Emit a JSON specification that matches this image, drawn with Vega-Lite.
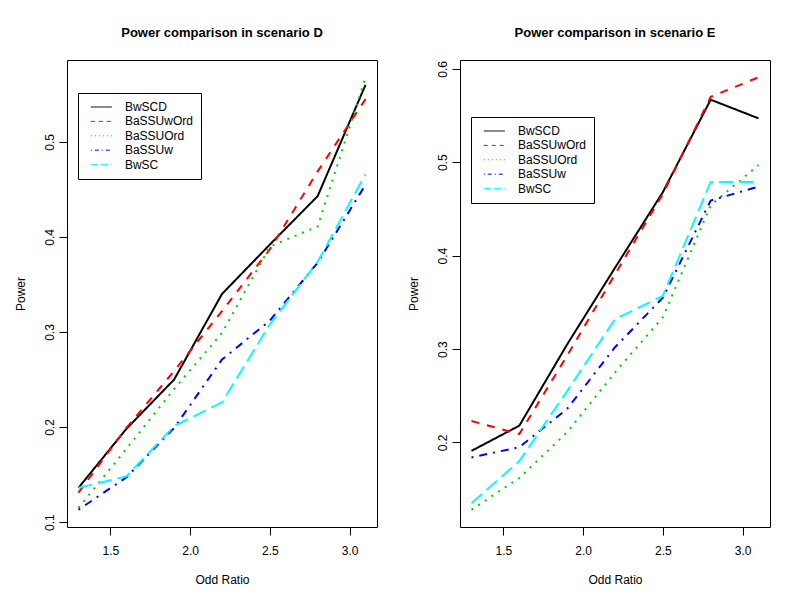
{
  "$schema": "https://vega.github.io/schema/vega-lite/v6.json",
  "padding": {"left": 13, "top": 26, "right": 0, "bottom": 0},
  "background": "white",
  "config": {
    "font": "Liberation Sans",
    "view": {"stroke": "black", "strokeWidth": 1},
    "title": {"font": "Liberation Sans", "fontSize": 13, "fontWeight": "bold", "color": "black", "anchor": "middle", "baseline": "bottom", "offset": 20},
    "axis": {"labelFont": "Liberation Sans", "titleFont": "Liberation Sans", "labelFontSize": 12, "titleFontSize": 12, "titleFontWeight": "normal", "labelColor": "black", "titleColor": "black", "tickColor": "black", "tickSize": 8, "grid": false, "domain": false},
    "axisX": {"labelPadding": 10, "minExtent": 30, "maxExtent": 30, "titlePadding": 17},
    "axisY": {"labelAngle": -90, "labelPadding": 3, "minExtent": 24, "maxExtent": 24, "titlePadding": 16},
    "legend": {"labelFont": "Liberation Sans", "labelFontSize": 12, "labelColor": "black", "symbolType": "M-2.5,0H2.5", "symbolSize": 70.56, "symbolStrokeWidth": 1, "symbolOffset": 9.3, "labelOffset": 17.6, "padding": 8, "rowPadding": 2.4, "strokeColor": "black", "fillColor": "white", "title": null}
  },
  "datasets": {
    "D": [
      {"or": 1.3, "method": "BwSCD", "power": 0.136},
      {"or": 1.6, "method": "BwSCD", "power": 0.198},
      {"or": 1.9, "method": "BwSCD", "power": 0.250},
      {"or": 2.2, "method": "BwSCD", "power": 0.340},
      {"or": 2.5, "method": "BwSCD", "power": 0.392},
      {"or": 2.8, "method": "BwSCD", "power": 0.443},
      {"or": 3.1, "method": "BwSCD", "power": 0.560},
      {"or": 1.3, "method": "BaSSUwOrd", "power": 0.131},
      {"or": 1.6, "method": "BaSSUwOrd", "power": 0.199},
      {"or": 1.9, "method": "BaSSUwOrd", "power": 0.259},
      {"or": 2.2, "method": "BaSSUwOrd", "power": 0.322},
      {"or": 2.5, "method": "BaSSUwOrd", "power": 0.387},
      {"or": 2.8, "method": "BaSSUwOrd", "power": 0.469},
      {"or": 3.1, "method": "BaSSUwOrd", "power": 0.545},
      {"or": 1.3, "method": "BaSSUOrd", "power": 0.115},
      {"or": 1.6, "method": "BaSSUOrd", "power": 0.177},
      {"or": 1.9, "method": "BaSSUOrd", "power": 0.240},
      {"or": 2.2, "method": "BaSSUOrd", "power": 0.299},
      {"or": 2.5, "method": "BaSSUOrd", "power": 0.390},
      {"or": 2.8, "method": "BaSSUOrd", "power": 0.411},
      {"or": 3.1, "method": "BaSSUOrd", "power": 0.568},
      {"or": 1.3, "method": "BaSSUw", "power": 0.113},
      {"or": 1.6, "method": "BaSSUw", "power": 0.147},
      {"or": 1.9, "method": "BaSSUw", "power": 0.199},
      {"or": 2.2, "method": "BaSSUw", "power": 0.271},
      {"or": 2.5, "method": "BaSSUw", "power": 0.312},
      {"or": 2.8, "method": "BaSSUw", "power": 0.373},
      {"or": 3.1, "method": "BaSSUw", "power": 0.455},
      {"or": 1.3, "method": "BwSC", "power": 0.136},
      {"or": 1.6, "method": "BwSC", "power": 0.148},
      {"or": 1.9, "method": "BwSC", "power": 0.201},
      {"or": 2.2, "method": "BwSC", "power": 0.226},
      {"or": 2.5, "method": "BwSC", "power": 0.308},
      {"or": 2.8, "method": "BwSC", "power": 0.374},
      {"or": 3.1, "method": "BwSC", "power": 0.466}
    ],
    "E": [
      {"or": 1.3, "method": "BwSCD", "power": 0.191},
      {"or": 1.6, "method": "BwSCD", "power": 0.218},
      {"or": 1.9, "method": "BwSCD", "power": 0.305},
      {"or": 2.2, "method": "BwSCD", "power": 0.387},
      {"or": 2.5, "method": "BwSCD", "power": 0.468},
      {"or": 2.8, "method": "BwSCD", "power": 0.567},
      {"or": 3.1, "method": "BwSCD", "power": 0.547},
      {"or": 1.3, "method": "BaSSUwOrd", "power": 0.223},
      {"or": 1.6, "method": "BaSSUwOrd", "power": 0.209},
      {"or": 1.9, "method": "BaSSUwOrd", "power": 0.293},
      {"or": 2.2, "method": "BaSSUwOrd", "power": 0.380},
      {"or": 2.5, "method": "BaSSUwOrd", "power": 0.466},
      {"or": 2.8, "method": "BaSSUwOrd", "power": 0.570},
      {"or": 3.1, "method": "BaSSUwOrd", "power": 0.591},
      {"or": 1.3, "method": "BaSSUOrd", "power": 0.128},
      {"or": 1.6, "method": "BaSSUOrd", "power": 0.162},
      {"or": 1.9, "method": "BaSSUOrd", "power": 0.211},
      {"or": 2.2, "method": "BaSSUOrd", "power": 0.275},
      {"or": 2.5, "method": "BaSSUOrd", "power": 0.334},
      {"or": 2.8, "method": "BaSSUOrd", "power": 0.454},
      {"or": 3.1, "method": "BaSSUOrd", "power": 0.497},
      {"or": 1.3, "method": "BaSSUw", "power": 0.184},
      {"or": 1.6, "method": "BaSSUw", "power": 0.195},
      {"or": 1.9, "method": "BaSSUw", "power": 0.236},
      {"or": 2.2, "method": "BaSSUw", "power": 0.302},
      {"or": 2.5, "method": "BaSSUw", "power": 0.355},
      {"or": 2.8, "method": "BaSSUw", "power": 0.459},
      {"or": 3.1, "method": "BaSSUw", "power": 0.474},
      {"or": 1.3, "method": "BwSC", "power": 0.135},
      {"or": 1.6, "method": "BwSC", "power": 0.180},
      {"or": 1.9, "method": "BwSC", "power": 0.255},
      {"or": 2.2, "method": "BwSC", "power": 0.332},
      {"or": 2.5, "method": "BwSC", "power": 0.357},
      {"or": 2.8, "method": "BwSC", "power": 0.479},
      {"or": 3.1, "method": "BwSC", "power": 0.479}
    ]
  },
  "spacing": 28,
  "resolve": {"scale": {"color": "independent", "strokeDash": "independent", "y": "independent", "x": "independent"}, "legend": {"color": "independent", "strokeDash": "independent"}},
  "hconcat": [
    {
      "title": "Power comparison in scenario D",
      "width": 310,
      "height": 467,
      "data": {"name": "D"},
      "encoding": {
        "x": {"field": "or", "type": "quantitative", "title": "Odd Ratio", "scale": {"domain": [1.228, 3.172], "nice": false, "zero": false}, "axis": {"values": [1.5, 2.0, 2.5, 3.0], "format": ".1f"}},
        "y": {"field": "power", "type": "quantitative", "title": "Power", "scale": {"domain": [0.0948, 0.5862], "nice": false, "zero": false}, "axis": {"values": [0.1, 0.2, 0.3, 0.4, 0.5], "format": ".1f"}},
        "order": {"field": "or", "type": "quantitative"}
      },
      "resolve": {"scale": {"color": "independent", "strokeDash": "independent"}, "legend": {"color": "independent", "strokeDash": "independent"}},
      "layer": [
        {
          "mark": {"type": "line", "strokeWidth": 2, "clip": true},
          "encoding": {
            "color": {"field": "method", "type": "nominal", "legend": null, "scale": {"domain": ["BwSCD", "BaSSUwOrd", "BaSSUOrd", "BaSSUw", "BwSC"], "range": ["#000000", "#FF0000", "#00CD00", "#0000FF", "#00FFFF"]}},
            "strokeDash": {"field": "method", "type": "nominal", "legend": null, "scale": {"domain": ["BwSCD", "BaSSUwOrd", "BaSSUOrd", "BaSSUw", "BwSC"], "range": [[1, 0], [8, 8], [2, 6], [2, 6, 8, 6], [14, 6]]}}
          }
        },
        {
          "transform": [{"filter": "datum.or < 0"}],
          "mark": {"type": "line", "strokeWidth": 1, "clip": true},
          "encoding": {
            "color": {"field": "method", "type": "nominal", "scale": {"domain": ["BwSCD", "BaSSUwOrd", "BaSSUOrd", "BaSSUw", "BwSC"], "range": ["#000000", "#FF0000", "#00CD00", "#0000FF", "#00FFFF"]}, "legend": {"orient": "none", "legendX": 11, "legendY": 33}},
            "strokeDash": {"field": "method", "type": "nominal", "scale": {"domain": ["BwSCD", "BaSSUwOrd", "BaSSUOrd", "BaSSUw", "BwSC"], "range": [[1, 0], [4, 4], [1, 3], [1, 3, 4, 3], [7, 3]]}, "legend": {"orient": "none", "legendX": 11, "legendY": 33}}
          }
        }
      ]
    },
    {
      "title": "Power comparison in scenario E",
      "width": 310,
      "height": 467,
      "data": {"name": "E"},
      "encoding": {
        "x": {"field": "or", "type": "quantitative", "title": "Odd Ratio", "scale": {"domain": [1.228, 3.172], "nice": false, "zero": false}, "axis": {"values": [1.5, 2.0, 2.5, 3.0], "format": ".1f"}},
        "y": {"field": "power", "type": "quantitative", "title": "Power", "scale": {"domain": [0.1095, 0.6095], "nice": false, "zero": false}, "axis": {"values": [0.2, 0.3, 0.4, 0.5, 0.6], "format": ".1f"}},
        "order": {"field": "or", "type": "quantitative"}
      },
      "resolve": {"scale": {"color": "independent", "strokeDash": "independent"}, "legend": {"color": "independent", "strokeDash": "independent"}},
      "layer": [
        {
          "mark": {"type": "line", "strokeWidth": 2, "clip": true},
          "encoding": {
            "color": {"field": "method", "type": "nominal", "legend": null, "scale": {"domain": ["BwSCD", "BaSSUwOrd", "BaSSUOrd", "BaSSUw", "BwSC"], "range": ["#000000", "#FF0000", "#00CD00", "#0000FF", "#00FFFF"]}},
            "strokeDash": {"field": "method", "type": "nominal", "legend": null, "scale": {"domain": ["BwSCD", "BaSSUwOrd", "BaSSUOrd", "BaSSUw", "BwSC"], "range": [[1, 0], [8, 8], [2, 6], [2, 6, 8, 6], [14, 6]]}}
          }
        },
        {
          "transform": [{"filter": "datum.or < 0"}],
          "mark": {"type": "line", "strokeWidth": 1, "clip": true},
          "encoding": {
            "color": {"field": "method", "type": "nominal", "scale": {"domain": ["BwSCD", "BaSSUwOrd", "BaSSUOrd", "BaSSUw", "BwSC"], "range": ["#000000", "#FF0000", "#00CD00", "#0000FF", "#00FFFF"]}, "legend": {"orient": "none", "legendX": 11, "legendY": 57}},
            "strokeDash": {"field": "method", "type": "nominal", "scale": {"domain": ["BwSCD", "BaSSUwOrd", "BaSSUOrd", "BaSSUw", "BwSC"], "range": [[1, 0], [4, 4], [1, 3], [1, 3, 4, 3], [7, 3]]}, "legend": {"orient": "none", "legendX": 11, "legendY": 57}}
          }
        }
      ]
    }
  ]
}
